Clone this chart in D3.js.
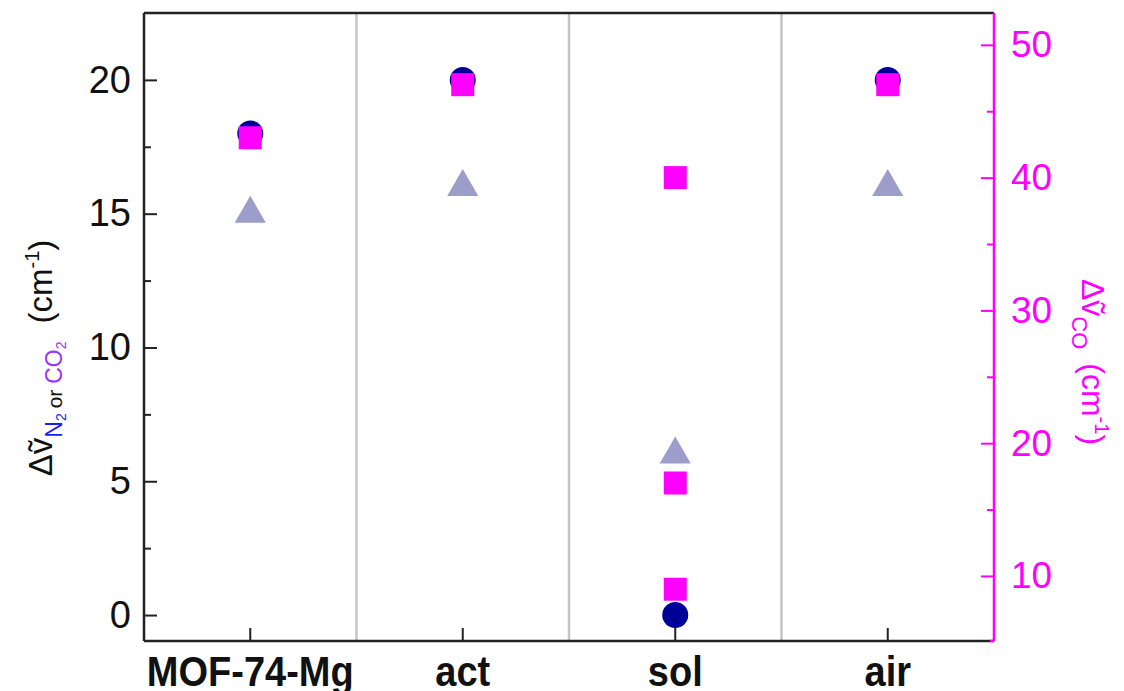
<!DOCTYPE html>
<html>
<head>
<meta charset="utf-8">
<script src="https://cdn.jsdelivr.net/npm/d3@7"></script>
<style>
  body { margin: 0; background: white; }
  text { font-family: "Liberation Sans", Arial, sans-serif; }
</style>
</head>
<body>
<script>
const width = 1124;
const height = 691;
const margin = {top: 13, right: 130, bottom: 50, left: 144};

// data
const categories = ["MOF-74-Mg", "act", "sol", "air"];
const circleCat = ["MOF-74-Mg", "act", "sol", "air"];
const circleVal = [18, 20, 0, 20];        // left axis, N2
const triangleCat = ["MOF-74-Mg", "act", "sol", "air"];
const triangleVal = [15, 16, 6, 16];      // left axis, CO2
const squareCat = ["MOF-74-Mg", "act", "sol", "sol", "sol", "air"];
const squareVal = [43, 47, 40, 17, 9, 47]; // right axis, CO
const leftTicks = [0, 5, 10, 15, 20];
const leftMinor = [2.5, 7.5, 12.5, 17.5];
const rightTicks = [10, 20, 30, 40, 50];
const rightMinor = [15, 25, 35, 45];

const magenta = "#ff00ff";
const navy = "#000099";
const lilac = "#9d9dcc";

const svg = d3.select("body").append("svg")
    .attr("width", width)
    .attr("height", height);

const x0 = margin.left, x1 = width - margin.right;
const y0 = height - margin.bottom, y1 = margin.top;

const x = d3.scaleBand().domain(categories).range([x0, x1]);
const yL = d3.scaleLinear().domain([-0.97, 22.5]).range([y0, y1]);
const yR = d3.scaleLinear().domain([5.1, 52.4]).range([y0, y1]);

// gray separators between categories
svg.selectAll(".sep")
    .data(categories.slice(1))
    .enter().append("line")
    .attr("x1", d => x(d)).attr("x2", d => x(d))
    .attr("y1", y1).attr("y2", y0)
    .attr("stroke", "#c4c4c4")
    .attr("stroke-width", 2.5);

// frame
svg.append("line").attr("x1", x0).attr("x2", x1).attr("y1", y1).attr("y2", y1)
    .attr("stroke", "#222").attr("stroke-width", 2.5);
svg.append("line").attr("x1", x0).attr("x2", x1).attr("y1", y0).attr("y2", y0)
    .attr("stroke", "#222").attr("stroke-width", 2.5);
svg.append("line").attr("x1", x0).attr("x2", x0).attr("y1", y1).attr("y2", y0)
    .attr("stroke", "#222").attr("stroke-width", 2.5);

// left axis
const leftAxis = d3.axisLeft(yL).tickValues(leftTicks).tickSize(-13).tickPadding(13);
const gL = svg.append("g").attr("transform", `translate(${x0},0)`).call(leftAxis);
gL.select(".domain").remove();
gL.selectAll(".tick line").attr("stroke", "#222").attr("stroke-width", 2);
gL.selectAll(".tick text").attr("font-size", 38).attr("fill", "#111")
    .attr("font-family", "Liberation Sans, Arial, sans-serif");
const minorL = d3.axisLeft(yL).tickValues(leftMinor).tickSize(-7).tickFormat("");
const gLm = svg.append("g").attr("transform", `translate(${x0},0)`).call(minorL);
gLm.select(".domain").remove();
gLm.selectAll(".tick line").attr("stroke", "#222").attr("stroke-width", 2);

// right axis
const rightAxis = d3.axisRight(yR).tickValues(rightTicks).tickSize(-13).tickPadding(17);
const gR = svg.append("g").attr("transform", `translate(${x1},0)`).call(rightAxis);
gR.select(".domain").attr("stroke", magenta).attr("stroke-width", 2.5)
    .attr("d", `M0,${y1}V${y0}`);
gR.selectAll(".tick line").attr("stroke", magenta).attr("stroke-width", 2);
gR.selectAll(".tick text").attr("font-size", 37).attr("fill", magenta)
    .attr("font-family", "Liberation Sans, Arial, sans-serif");
const minorR = d3.axisRight(yR).tickValues(rightMinor).tickSize(-7).tickFormat("");
const gRm = svg.append("g").attr("transform", `translate(${x1},0)`).call(minorR);
gRm.select(".domain").remove();
gRm.selectAll(".tick line").attr("stroke", magenta).attr("stroke-width", 2);

// bottom axis
const bottomAxis = d3.axisBottom(x).tickSize(-13);
const gB = svg.append("g").attr("transform", `translate(0,${y0})`).call(bottomAxis);
gB.select(".domain").remove();
gB.selectAll(".tick line").attr("stroke", "#222").attr("stroke-width", 2);
gB.selectAll(".tick text")
    .attr("y", 0).attr("dy", 0)
    .attr("transform", "translate(0,45) scale(1,1.13)")
    .attr("font-size", 38).attr("font-weight", "bold")
    .attr("fill", "#111").attr("font-family", "Liberation Sans, Arial, sans-serif");
// magenta corner on right of bottom line
svg.append("line").attr("x1", x1 - 4).attr("x2", x1).attr("y1", y0).attr("y2", y0)
    .attr("stroke", magenta).attr("stroke-width", 2.5);

const cx = d => x(d) + x.bandwidth() / 2;

// circles (N2)
svg.selectAll(".circ")
    .data(circleVal)
    .enter().append("circle")
    .attr("cx", (d, i) => cx(circleCat[i]))
    .attr("cy", d => yL(d))
    .attr("r", 13)
    .attr("fill", navy);

// triangles (CO2)
const tri = d3.symbol().type(d3.symbolTriangle).size(420);
svg.selectAll(".tri")
    .data(triangleVal)
    .enter().append("path")
    .attr("d", tri)
    .attr("transform", (d, i) => `translate(${cx(triangleCat[i])},${yL(d)})`)
    .attr("fill", lilac);

// squares (CO)
svg.selectAll(".sq")
    .data(squareVal)
    .enter().append("rect")
    .attr("x", (d, i) => cx(squareCat[i]) - 11.5)
    .attr("y", d => yR(d) - 11.5)
    .attr("width", 23).attr("height", 23)
    .attr("fill", magenta);

// left y label
const lt = svg.append("text")
    .attr("transform", `translate(52,358) rotate(-90)`)
    .attr("text-anchor", "middle")
    .attr("font-size", 33)
    .attr("fill", "#111");
lt.append("tspan").text("Δṽ");
lt.append("tspan").attr("font-size", 23).attr("dy", 10).attr("fill", "#1a1aff").text("N");
lt.append("tspan").attr("font-size", 14).attr("dy", 4).attr("fill", "#1a1aff").text("2");
lt.append("tspan").attr("font-size", 21).attr("dy", -4).attr("dx", 5).text("or ");
lt.append("tspan").attr("font-size", 23).attr("fill", "#9933ff").text("CO");
lt.append("tspan").attr("font-size", 14).attr("dy", 4).attr("fill", "#9933ff").text("2");
lt.append("tspan").attr("dy", -14).attr("dx", 18).text("(cm");
lt.append("tspan").attr("font-size", 20).attr("dy", -13).text("-1");
lt.append("tspan").attr("dy", 13).text(")");

// right y label
const rt = svg.append("text")
    .attr("transform", `translate(1082,362) rotate(90)`)
    .attr("text-anchor", "middle")
    .attr("font-size", 32)
    .attr("fill", magenta);
rt.append("tspan").text("Δṽ");
rt.append("tspan").attr("font-size", 22).attr("dy", 10).text("CO");
rt.append("tspan").attr("dy", -10).attr("dx", 14).text("(cm");
rt.append("tspan").attr("font-size", 20).attr("dy", -13).text("-1");
rt.append("tspan").attr("dy", 13).text(")");
</script>
</body>
</html>
